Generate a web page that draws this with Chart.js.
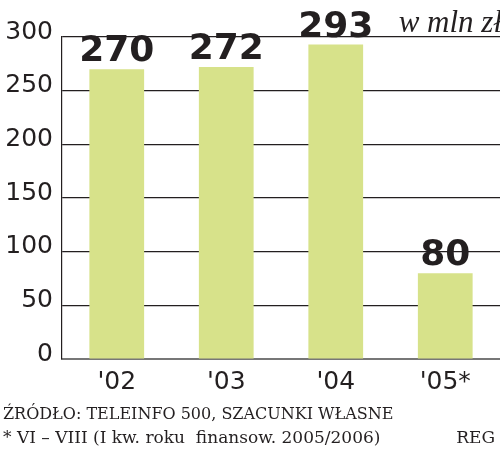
<!DOCTYPE html>
<html>
<head>
<meta charset="utf-8">
<script src="https://cdn.jsdelivr.net/npm/chart.js@4"></script>
<style>
html,body{margin:0;padding:0;background:#fff;}
#wrap{width:500px;height:454px;position:relative;}
</style>
</head>
<body>
<div id="wrap"><canvas id="c" width="500" height="454"></canvas></div>
<script>
const categories = ["'02", "'03", "'04", "'05*"];
const values = [270, 272, 293, 80];
const yTicks = [0, 50, 100, 150, 200, 250, 300];
const unitLabel = "w mln zł";
const sourceLine = "ŹRÓDŁO: TELEINFO 500, SZACUNKI WŁASNE";
const noteLine = "* VI – VIII (I kw. roku  finansow. 2005/2006)";
const authorLine = "REG";

const INK = '#231f20';

const extras = {
  id: 'extras',
  afterDatasetsDraw(chart) {
    const ctx = chart.ctx;
    const meta = chart.getDatasetMeta(0);
    ctx.save();
    ctx.fillStyle = INK;
    ctx.font = 'bold 36px "DejaVu Sans"';
    ctx.textAlign = 'center';
    ctx.textBaseline = 'alphabetic';
    meta.data.forEach((bar, i) => {
      ctx.fillText(String(values[i]), bar.x, bar.y - 8);
    });
    // unit
    ctx.font = 'italic 31px "Liberation Serif"';
    ctx.textAlign = 'right';
    ctx.fillText(unitLabel, 502, chart.chartArea.top - 5);
    // footer
    ctx.textAlign = 'left';
    ctx.font = '16px "DejaVu Serif"';
    ctx.fillText(sourceLine, 3, 419, 396);
    ctx.font = '17px "DejaVu Serif"';
    ctx.fillText(noteLine, 3, 443, 382);
    ctx.textAlign = 'right';
    ctx.fillText(authorLine, 495, 443);
    ctx.restore();
  }
};

new Chart(document.getElementById('c'), {
  type: 'bar',
  data: {
    labels: categories,
    datasets: [{
      data: values,
      backgroundColor: '#d7e28a',
      borderWidth: 0,
      barPercentage: 0.5,
      categoryPercentage: 1.0
    }]
  },
  options: {
    responsive: false,
    animation: false,
    layout: { padding: { top: 37, right: 0, bottom: 59, left: 0 } },
    plugins: { legend: { display: false }, tooltip: { enabled: false } },
    scales: {
      x: {
        grid: { display: false, drawTicks: false },
        border: { display: true, color: '#777777', width: 2 },
        ticks: { color: INK, font: { family: 'DejaVu Sans', size: 25 }, padding: 8 },
        afterFit(s) { s.height = 36; }
      },
      y: {
        min: 0, max: 300,
        afterBuildTicks(s) { s.ticks = yTicks.map(v => ({ value: v })); },
        grid: { color: INK, lineWidth: 1.2, drawTicks: false },
        border: { display: true, color: INK, width: 1.2 },
        ticks: { color: INK, font: { family: 'DejaVu Sans', size: 25 }, padding: 9, labelOffset: -5 },
        afterFit(s) { s.width = 62; }
      }
    }
  },
  plugins: [extras]
});
</script>
</body>
</html>
